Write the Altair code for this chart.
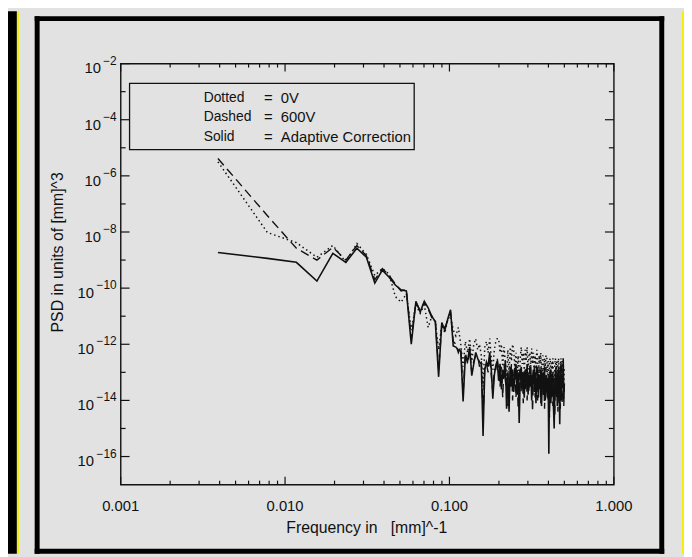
import altair as alt
import pandas as pd

# ---------------- data ----------------
N_BINS = 128
FREQ = [k / 256 for k in range(1, N_BINS + 1)]  # frequency bins in [mm]^-1

# log10 of PSD
SOLID_EXP = [
    -8.73, -8.94, -9.08, -9.75, -8.76, -9.08, -8.58, -8.90, -9.82, -9.36,
    -9.61, -9.89, -10.06, -10.10, -12.00, -10.47, -10.85, -10.47, -10.70, -11.00,
    -11.20, -13.16, -11.23, -11.50, -11.10, -10.77, -12.06, -12.10, -12.20, -12.24,
    -14.04, -12.41, -12.60, -12.10, -13.12, -12.70, -12.29, -12.50, -12.63, -12.70,
    -15.27, -12.90, -12.63, -12.80, -12.29, -12.90, -13.94, -13.10, -12.76, -12.60,
    -13.3, -12.7, -13.6, -12.9, -13.2, -12.6, -14.3, -13.0, -14.4, -12.8,
    -13.5, -12.9, -13.7, -13.1, -12.7, -13.8, -13.0, -14.8, -13.2, -12.8,
    -13.6, -13.0, -13.9, -12.9, -13.4, -12.7, -13.8, -13.1, -13.5, -12.8,
    -14.0, -13.2, -12.9, -13.7, -13.0, -14.1, -13.3, -12.8, -13.9, -13.1,
    -13.6, -12.9, -14.2, -13.2, -13.0, -13.8, -12.8, -14.0, -13.4, -13.1,
    -13.9, -13.2, -15.9, -13.3, -12.9, -14.1, -13.2, -13.7, -13.0, -14.3,
    -15.0, -13.4, -12.9, -13.8, -13.1, -14.2, -13.3, -12.8, -13.6, -14.85,
    -13.2, -12.7, -14.0, -13.1, -13.5, -12.5, -13.9, -13.4,
]
DASHED_EXP = [
    -5.38, -7.42, -8.58, -9.00, -8.55, -9.00, -8.48, -8.85, -9.70, -9.30,
    -9.55, -9.85, -10.10, -10.05, -11.80, -10.50, -10.80, -10.50, -10.75, -11.05,
    -11.10, -12.90, -11.30, -11.40, -11.15, -10.85, -11.90, -12.00, -12.30, -12.10,
    -13.70, -12.30, -12.70, -12.20, -13.00, -12.60, -12.40, -12.40, -12.80, -12.60,
    -14.60, -12.80, -12.70, -13.00, -12.40, -13.10, -13.70, -12.90, -12.90, -12.50,
    -12.9, -13.5, -12.8, -13.9, -12.7, -13.3, -13.6, -14.2, -13.0, -13.6,
    -12.7, -14.0, -13.1, -12.8, -13.9, -12.9, -14.3, -13.2, -12.8, -13.7,
    -13.0, -14.1, -12.9, -13.6, -12.8, -14.0, -13.0, -13.7, -12.7, -13.5,
    -13.1, -14.4, -13.0, -12.8, -13.9, -13.1, -12.7, -14.0, -13.2, -13.6,
    -12.8, -14.1, -13.0, -12.9, -13.8, -13.1, -14.3, -13.0, -12.8, -13.7,
    -13.2, -14.0, -13.1, -14.6, -13.3, -12.9, -13.9, -13.0, -14.2, -13.2,
    -13.7, -14.5, -13.1, -12.8, -13.9, -13.0, -14.4, -13.2, -12.9, -13.8,
    -14.3, -13.0, -12.8, -14.1, -13.2, -12.9, -14.2, -13.5,
]
DOTTED_EXP = [
    -5.50, -8.02, -8.38, -8.90, -8.48, -9.07, -8.41, -8.80, -9.55, -9.30,
    -9.50, -10.30, -10.50, -10.20, -11.50, -10.60, -10.90, -10.60, -11.40, -11.00,
    -11.20, -12.20, -11.30, -11.60, -11.10, -11.00, -11.50, -11.70, -11.40, -12.00,
    -12.80, -11.90, -12.30, -11.80, -12.60, -12.00, -11.80, -12.20, -12.00, -12.40,
    -13.50, -12.10, -11.90, -12.30, -11.80, -12.50, -12.90, -12.20, -11.90, -11.80,
    -11.8, -12.3, -12.0, -12.8, -12.1, -12.6, -13.4, -12.2, -13.0, -12.1,
    -12.6, -12.0, -12.2, -12.9, -12.3, -13.2, -12.4, -13.8, -12.5, -12.1,
    -12.7, -12.3, -13.0, -12.2, -12.6, -12.1, -12.9, -12.4, -12.3, -12.8,
    -12.15, -12.7, -12.3, -13.1, -12.4, -12.9, -12.2, -12.5, -13.2, -12.4,
    -12.7, -12.3, -13.0, -12.5, -12.4, -13.3, -12.5, -12.8, -12.4, -12.4,
    -13.1, -12.6, -14.0, -12.6, -12.5, -13.2, -12.6, -12.9, -12.5, -13.4,
    -13.6, -12.7, -12.5, -13.1, -12.6, -13.5, -12.7, -12.5, -12.9, -13.7,
    -12.7, -12.5, -13.2, -12.6, -12.9, -12.6, -13.4, -12.8,
]

X_LABELS = [0.001, 0.01, 0.1, 1.0]
X_MINOR = [m * 10.0 ** d for d in (-3, -2, -1) for m in range(2, 10)]
Y_MAJOR_EXP = [-2, -4, -6, -8, -10, -12, -14, -16]
Y_MINOR_EXP = [-3, -5, -7, -9, -11, -13, -15]

NB = "\u00a0"
LEGEND_NAMES = ["Dotted", "Dashed", "Solid"]
LEGEND_VALUES = ["=" + NB * 2 + "0V", "=" + NB * 2 + "600V", "=" + NB * 2 + "Adaptive Correction"]

X_TITLE = "Frequency in" + NB * 3 + "[mm]^-1"
Y_TITLE = "PSD in units of [mm]^3"

# ---------------- styling / layout ----------------
W, H = 499, 426
TOTAL_W, TOTAL_H = 684, 549
PAD = {"left": 114, "top": 53, "right": TOTAL_W - 114 - W, "bottom": TOTAL_H - 53 - H}
INK = "#111111"
BG = "#e2e2e2"
FONT = "Liberation Sans"

XS = alt.Scale(type="log", domain=[0.001, 1.0], nice=False)
YS = alt.Scale(type="log", domain=[1e-17, 1e-2], nice=False)

one = pd.DataFrame({"a": [0]})


def box(x0, x1, y0, y1, color):
    return alt.Chart(one).mark_rect(color=color).encode(
        x=alt.value(x0), x2=alt.value(x1), y=alt.value(y0), y2=alt.value(y1)
    )


L = -PAD["left"]
T = -PAD["top"]
decor = [
    box(L, L + 9, T, T + TOTAL_H, "#000000"),          # left black strip
    box(L + 9, L + 11, T, T + TOTAL_H, "#f5f000"),     # yellow border
    box(L + 682, L + 684, T, T + TOTAL_H, "#f5f000"),  # right yellow border
    # thick black frame
    box(-87, -82, -48, 496, "#000000"),
    box(-87, 550, -48, -43, "#000000"),
    box(545, 550, -48, 496, "#000000"),
    box(-87, 550, 491, 496, "#000000"),
]


def line_layer(exps, dash, width):
    df = pd.DataFrame({"freq": FREQ, "psd": [10.0 ** e for e in exps]})
    kw = dict(color=INK, strokeWidth=width, clip=True)
    if dash:
        kw["strokeDash"] = dash
    return alt.Chart(df).mark_line(**kw).encode(
        x=alt.X("freq:Q", scale=XS, axis=None),
        y=alt.Y("psd:Q", scale=YS, axis=None),
    )


lines = [
    line_layer(DOTTED_EXP, [1.5, 3], 1.5),
    line_layer(DASHED_EXP, [9, 5], 1.4),
    line_layer(SOLID_EXP, None, 1.6),
]

xmaj = pd.DataFrame({"v": X_LABELS})
xmin = pd.DataFrame({"v": X_MINOR})
ymaj = pd.DataFrame({"v": [10.0 ** e for e in Y_MAJOR_EXP]})
ymin = pd.DataFrame({"v": [10.0 ** e for e in Y_MINOR_EXP]})


def xtick(df, y0, y1):
    return alt.Chart(df).mark_rule(color=INK, strokeWidth=1.2).encode(
        x=alt.X("v:Q", scale=XS, axis=None), y=alt.value(y0), y2=alt.value(y1)
    )


def ytick(df, x0, x1):
    return alt.Chart(df).mark_rule(color=INK, strokeWidth=1.2).encode(
        y=alt.Y("v:Q", scale=YS, axis=None), x=alt.value(x0), x2=alt.value(x1)
    )


ticks = [
    xtick(xmaj, H, H - 8), xtick(xmaj, 0, 8),
    xtick(xmin, H, H - 4), xtick(xmin, 0, 4),
    ytick(ymaj, 0, 9), ytick(ymaj, W, W - 9),
    ytick(ymin, 0, 5), ytick(ymin, W, W - 5),
]

x_labels = alt.Chart(xmaj).mark_text(
    align="center", baseline="middle", fontSize=15, font=FONT, color=INK
).transform_calculate(lab="format(datum.v, '.3f')").encode(
    x=alt.X("v:Q", scale=XS, axis=None), y=alt.value(H + 22), text="lab:N"
)

ylab = pd.DataFrame({
    "v": [10.0 ** e for e in Y_MAJOR_EXP],
    "exp": ["\u2212" + str(abs(e)) for e in Y_MAJOR_EXP],
})
y_exp = alt.Chart(ylab).mark_text(
    align="right", baseline="middle", fontSize=12, dy=-3, font=FONT, color=INK
).encode(x=alt.value(-4), y=alt.Y("v:Q", scale=YS, axis=None), text="exp:N")
y_base = alt.Chart(ylab).mark_text(
    align="right", baseline="middle", fontSize=15, dy=5, font=FONT, color=INK
).transform_calculate(
    xo="-6 - 7 * length(datum.exp)"
).encode(
    x=alt.X("xo:Q", scale=None), y=alt.Y("v:Q", scale=YS, axis=None), text=alt.value("10")
)

titles = [
    alt.Chart(one).mark_text(
        text=X_TITLE, fontSize=16, font=FONT, color=INK, align="center", baseline="middle"
    ).encode(x=alt.value(249), y=alt.value(470)),
    alt.Chart(one).mark_text(
        text=Y_TITLE, fontSize=16, font=FONT, color=INK, align="center", baseline="middle", angle=270
    ).encode(x=alt.value(-63), y=alt.value(191)),
]

legend_box = alt.Chart(one).mark_rect(fill=BG, stroke=INK, strokeWidth=1.3).encode(
    x=alt.value(9), x2=alt.value(297), y=alt.value(20), y2=alt.value(87)
)
leg = pd.DataFrame({"name": LEGEND_NAMES, "val": LEGEND_VALUES, "i": [0, 1, 2]})
legend_names = alt.Chart(leg).mark_text(
    align="left", baseline="middle", fontSize=14, font=FONT, color=INK
).transform_calculate(yy="35 + 19.5 * datum.i").encode(
    x=alt.value(84), y=alt.Y("yy:Q", scale=None), text="name:N"
)
legend_vals = alt.Chart(leg).mark_text(
    align="left", baseline="middle", fontSize=15, font=FONT, color=INK
).transform_calculate(yy="35 + 19.5 * datum.i").encode(
    x=alt.value(145), y=alt.Y("yy:Q", scale=None), text="val:N"
)

chart = alt.layer(
    *decor, *lines, *ticks, x_labels, y_exp, y_base, *titles,
    legend_box, legend_names, legend_vals
).properties(
    width=W, height=H,
    autosize=alt.AutoSizeParams(type="none"),
    padding=PAD,
    background=BG,
).configure_view(stroke=INK, strokeWidth=1.4)

chart.save("out.html", embed_options={"renderer": "svg", "actions": False})
